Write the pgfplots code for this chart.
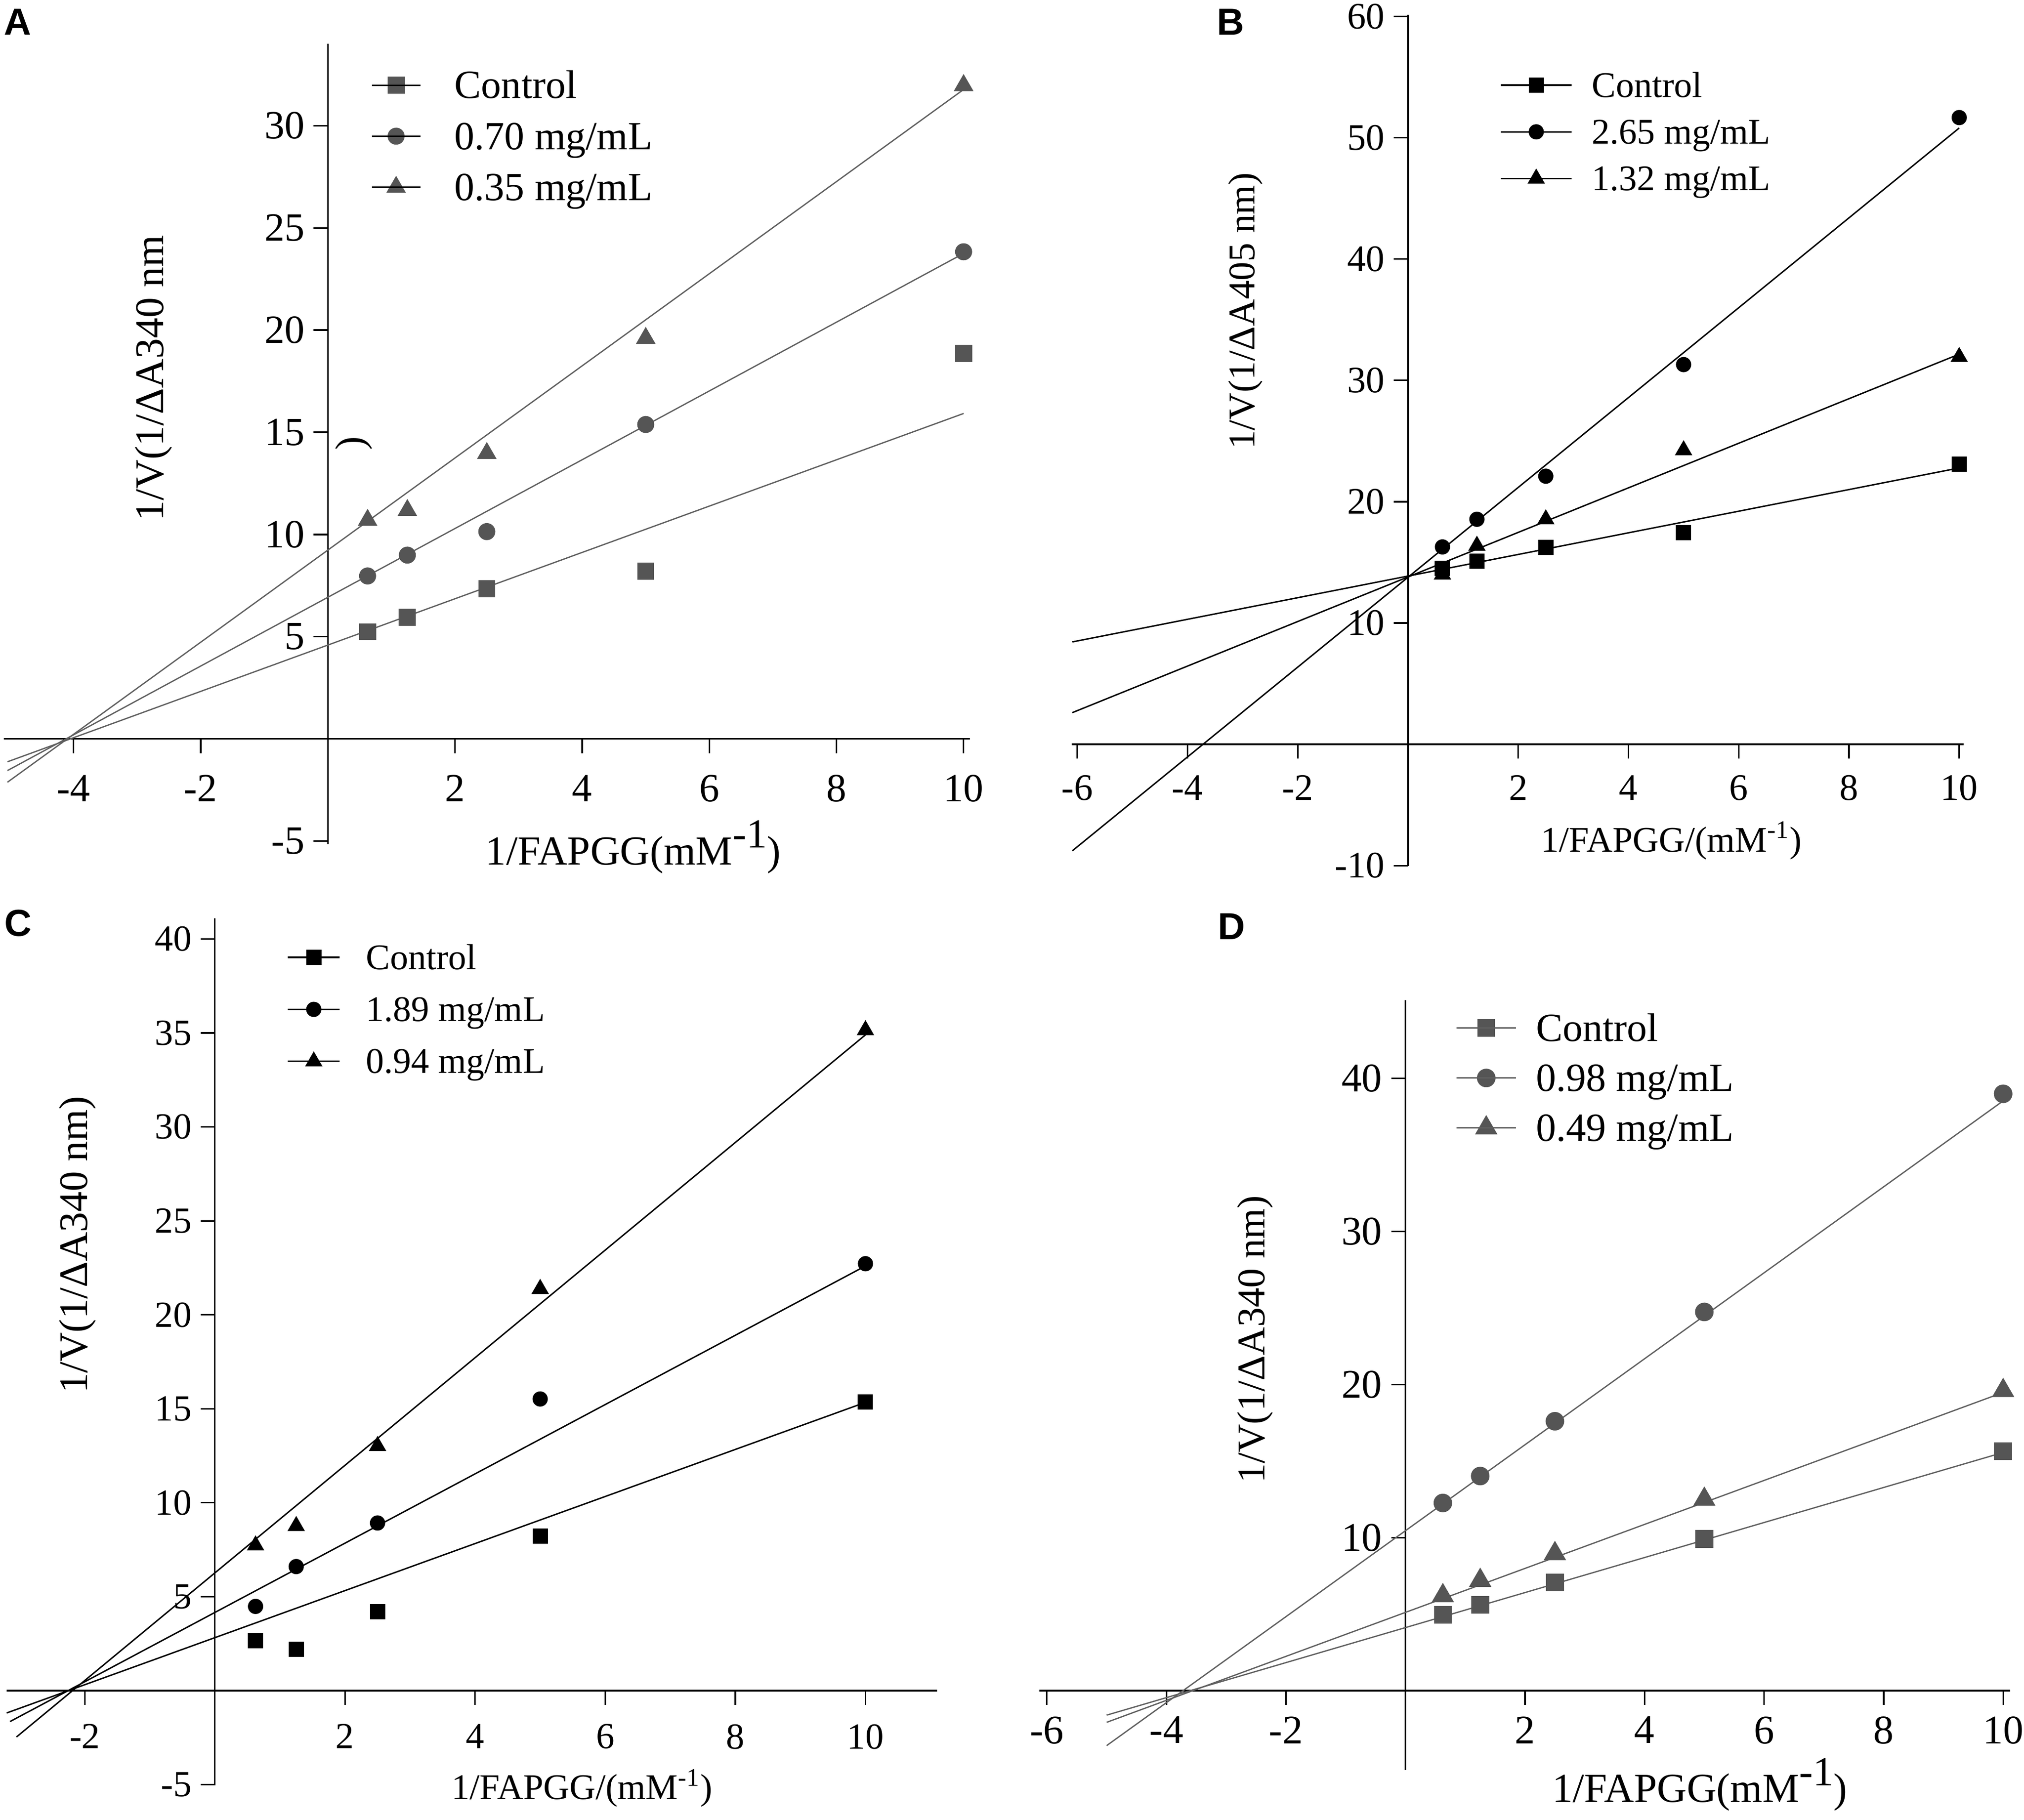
\documentclass[border=0pt]{standalone}
\usepackage{fontspec}
\setmainfont{Liberation Serif}
\newfontfamily\panelfont{Liberation Sans}
\usepackage{pgfplots}
\pgfplotsset{compat=1.18}
\definecolor{gmark}{RGB}{85,85,85}
\definecolor{gline}{RGB}{95,95,95}
\pgfplotsset{
  lb/.style={
    axis lines=middle,
    axis line style={-, line width=0.6pt, black},
    tick align=outside,
    major tick length=5.5pt,
    tick style={black, line width=0.6pt},
    scale only axis, clip=false, anchor=south west,
    /pgf/number format/assume math mode=true,
    legend cell align=left,
  },
  leg/.style n args={6}{% #1 rel x, #2 rel y, #3 font size, #4 row sep, #5 text height, #6 text depth
    legend style={at={(#1,#2)}, anchor=north west, draw=none, fill=none,
      inner sep=0pt, outer sep=0pt, row sep=#4,
      font=\fontsize{#3}{#3}\selectfont,
      nodes={inner sep=0pt, text height=#5, text depth=#6}},
  },
  limg/.style 2 args={% #1 length, #2 line color
    legend image code/.code={
      \draw[##1, mark repeat=2, mark phase=2, draw=none] plot coordinates {(0pt,0pt) (#1/2,0pt) (#1,0pt)};
      \draw[#2, line width=0.6pt, solid] (0pt,0pt) -- (#1,0pt);
    }
  },
}
\newcommand{\bigsup}[1]{\raisebox{0.41em}{#1}}
\begin{document}
\begin{tikzpicture}
\path[use as bounding box] (0pt,0pt) rectangle (784pt,-705pt);

% ---------------- A ----------------
\begin{axis}[lb, at={(1.415pt,-327.05pt)}, width=374.3pt, height=310.05pt,
  xmin=-5.1, xmax=10.1, ymin=-5.15, ymax=34,
  xtick={-4,-2,2,4,6,8,10}, ytick={-5,5,10,15,20,25,30},
  tick label style={font=\fontsize{15.5}{18}\selectfont},
  xticklabel style={yshift=-5pt},
  leg={0.3803}{0.9719}{15.5}{5.18pt}{12.4pt}{2.17pt}, legend style={column sep=13pt},
  limg={18.75pt}{black}]
\addplot[forget plot, gline, line width=0.5pt] coordinates {(-5.04,-1.12) (10,15.92)};
\addplot[forget plot, gline, line width=0.5pt] coordinates {(-5.04,-1.55) (10,23.75)};
\addplot[forget plot, gline, line width=0.5pt] coordinates {(-5.04,-2.12) (10,31.77)};
\addplot[only marks, gmark, mark=square*, mark size=3.1pt] coordinates {(0.625,5.24) (1.25,5.94) (2.5,7.35) (5,8.20) (10,18.87)};
\addlegendentry{Control}
\addplot[only marks, gmark, mark=*, mark size=3.1pt] coordinates {(0.625,7.97) (1.25,8.99) (2.5,10.14) (5,15.38) (10,23.83)};
\addlegendentry{0.70 mg/mL}
\addplot[only marks, gmark, mark=triangle*, mark size=4pt] coordinates {(0.625,10.7) (1.25,11.18) (2.5,13.97) (5,19.6) (10,31.97)};
\addlegendentry{0.35 mg/mL}
\node[rotate=90, font=\fontsize{15.8}{18}\selectfont] at (axis cs:0.41,14.45) {)};
\end{axis}

% ---------------- B ----------------
\begin{axis}[lb, at={(415.15pt,-335.6pt)}, width=345.45pt, height=329.95pt,
  xmin=-6.1, xmax=10.08, ymin=-10.05, ymax=60.15,
  xtick={-6,-4,-2,2,4,6,8,10}, ytick={-10,10,20,30,40,50,60},
  tick label style={font=\fontsize{14.5}{17}\selectfont},
  xticklabel style={yshift=-3pt},
  leg={0.4801}{0.9371}{14}{4.94pt}{11.2pt}{1.96pt}, legend style={column sep=7.5pt},
  limg={27.5pt}{black}]
\addplot[forget plot, black, line width=0.55pt] coordinates {(-6.09,8.44) (10,22.78)};
\addplot[forget plot, black, line width=0.55pt] coordinates {(-6.09,-8.78) (10,50.8)};
\addplot[forget plot, black, line width=0.55pt] coordinates {(-6.09,2.61) (10,32.16)};
\addplot[only marks, black, mark=square*, mark size=2.75pt] coordinates {(0.625,14.52) (1.25,15.09) (2.5,16.22) (5,17.46) (10,23.10)};
\addlegendentry{Control}
\addplot[only marks, black, mark=*, mark size=2.75pt] coordinates {(0.625,16.27) (1.25,18.55) (2.5,22.1) (5,31.3) (10,51.66)};
\addlegendentry{2.65 mg/mL}
\addplot[only marks, black, mark=triangle*, mark size=3.5pt] coordinates {(0.625,14.0) (1.25,16.37) (2.5,18.55) (5,24.24) (10,31.93)};
\addlegendentry{1.32 mg/mL}
\end{axis}

% ---------------- C ----------------
\begin{axis}[lb, at={(2.6pt,-691.75pt)}, width=360.35pt, height=335.95pt,
  xmin=-3.2, xmax=11.1, ymin=-5.05, ymax=41.1,
  xtick={-2,2,4,6,8,10}, ytick={-5,5,10,15,20,25,30,35,40},
  tick label style={font=\fontsize{14.25}{17}\selectfont},
  xticklabel style={yshift=-4pt},
  leg={0.3015}{0.9746}{14}{6.99pt}{11.2pt}{1.96pt}, legend style={column sep=10pt},
  limg={20pt}{black}]
\addplot[forget plot, black, line width=0.55pt] coordinates {(-3.2,-1.19) (10,15.34)};
\addplot[forget plot, black, line width=0.55pt] coordinates {(-3.15,-1.65) (10,22.6)};
\addplot[forget plot, black, line width=0.55pt] coordinates {(-3.05,-2.47) (10,34.9)};
\addplot[only marks, black, mark=square*, mark size=2.75pt] coordinates {(0.625,2.66) (1.25,2.19) (2.5,4.19) (5,8.23) (10,15.37)};
\addlegendentry{Control}
\addplot[only marks, black, mark=*, mark size=2.75pt] coordinates {(0.625,4.48) (1.25,6.6) (2.5,8.92) (5,15.52) (10,22.72)};
\addlegendentry{1.89 mg/mL}
\addplot[only marks, black, mark=triangle*, mark size=3.5pt] coordinates {(0.625,7.73) (1.25,8.76) (2.5,13.02) (5,21.38) (10,35.15)};
\addlegendentry{0.94 mg/mL}
\end{axis}

% ---------------- D ----------------
\begin{axis}[lb, at={(402.5pt,-685.85pt)}, width=376.2pt, height=298.3pt,
  xmin=-6.13, xmax=10.12, ymin=-5.2, ymax=45.1,
  xtick={-6,-4,-2,2,4,6,8,10}, ytick={10,20,30,40},
  tick label style={font=\fontsize{15.75}{18}\selectfont},
  xticklabel style={yshift=-1pt},
  leg={0.4290}{0.9884}{15.5}{4.78pt}{12.4pt}{2.17pt}, legend style={column sep=7.5pt},
  limg={23pt}{gline}]
\addplot[forget plot, gline, line width=0.5pt] coordinates {(-5.0,-1.6) (10,15.56)};
\addplot[forget plot, gline, line width=0.5pt] coordinates {(-5.0,-3.59) (10,38.53)};
\addplot[forget plot, gline, line width=0.5pt] coordinates {(-5.0,-2.07) (10,19.48)};
\addplot[only marks, gmark, mark=square*, mark size=3.25pt] coordinates {(0.625,4.96) (1.25,5.61) (2.5,7.07) (5,9.91) (10,15.64)};
\addlegendentry{Control}
\addplot[only marks, gmark, mark=*, mark size=3.4pt] coordinates {(0.625,12.26) (1.25,14.02) (2.5,17.6) (5,24.74) (10,38.99)};
\addlegendentry{0.98 mg/mL}
\addplot[only marks, gmark, mark=triangle*, mark size=4.6pt] coordinates {(0.625,6.2) (1.25,7.2) (2.5,8.95) (5,12.5) (10,19.6)};
\addlegendentry{0.49 mg/mL}
\end{axis}

% ---------------- labels ----------------
\node[anchor=base, font=\fontsize{16}{18}\selectfont] at (245.25pt,-335pt) {1/FAPGG(mM\bigsup{-1})};
\node[anchor=base, rotate=90, font=\fontsize{15.8}{18}\selectfont] at (63.25pt,-146.5pt) {1/V(1/ΔA340 nm};
\node[anchor=base, font=\fontsize{14}{17}\selectfont] at (647.4pt,-330pt) {1/FAPGG/(mM\textsuperscript{-1})};
\node[anchor=base, rotate=90, font=\fontsize{14.6}{17}\selectfont] at (486pt,-120.5pt) {1/V(1/ΔA405 nm)};
\node[anchor=base, font=\fontsize{14}{17}\selectfont] at (225.5pt,-697.15pt) {1/FAPGG/(mM\textsuperscript{-1})};
\node[anchor=base, rotate=90, font=\fontsize{15.7}{18}\selectfont] at (33.75pt,-482.25pt) {1/V(1/ΔA340 nm)};
\node[anchor=base, font=\fontsize{16}{18}\selectfont] at (658.4pt,-698.3pt) {1/FAPGG(mM\bigsup{-1})};
\node[anchor=base, rotate=90, font=\fontsize{15.2}{18}\selectfont] at (489.9pt,-518.9pt) {1/V(1/ΔA340 nm)};

\node[font=\panelfont\bfseries\fontsize{14.6}{16}\selectfont] at (6.9pt,-8.5pt) {A};
\node[font=\panelfont\bfseries\fontsize{14.6}{16}\selectfont] at (476.6pt,-8.5pt) {B};
\node[font=\panelfont\bfseries\fontsize{14.6}{16}\selectfont] at (7pt,-357.7pt) {C};
\node[font=\panelfont\bfseries\fontsize{14.6}{16}\selectfont] at (477pt,-359pt) {D};
\end{tikzpicture}
\end{document}
